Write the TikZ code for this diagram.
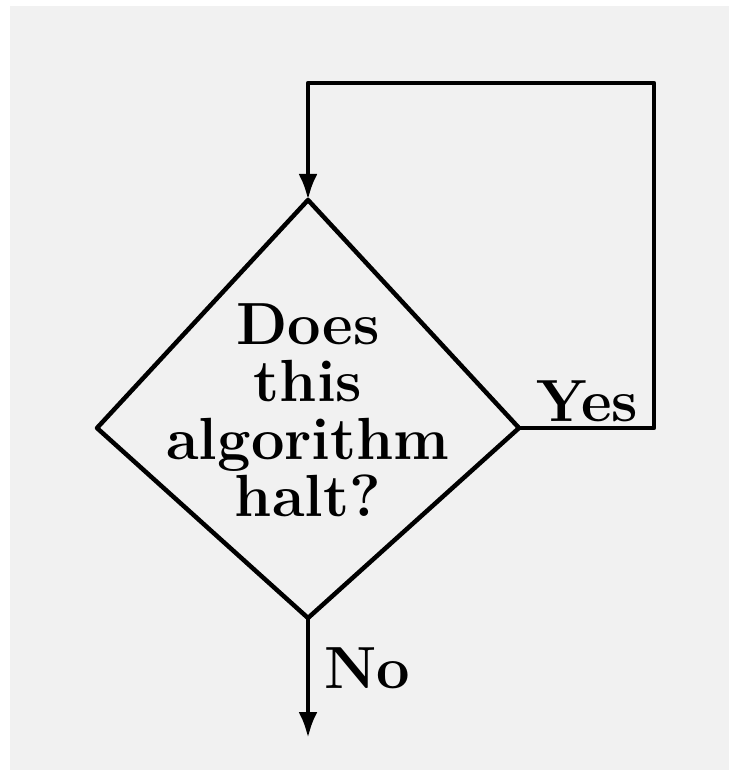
\documentclass[tikz,border=0pt]{standalone}
\usetikzlibrary{arrows.meta}
\definecolor{bggray}{HTML}{F1F1F1}
\begin{document}
\begin{tikzpicture}[x=1pt,y=-1pt,
  line/.style={line width=4.5pt, line join=round, line cap=butt},
  arr/.style={-{Latex[length=26pt,width=19pt]}},
  lbl/.style={font=\fontsize{59.5}{57.5}\selectfont\bfseries, inner sep=0pt}]
\useasboundingbox (0,0) rectangle (729,770);
\fill[bggray] (10,6) rectangle (729,770);
% diamond vertices
\coordinate (top) at (308,200);
\coordinate (left) at (97,428);
\coordinate (right) at (519,428);
\coordinate (bottom) at (308,618);
\coordinate (c1) at (654,428);
\coordinate (c2) at (654,83);
\coordinate (c3) at (308,83);
\coordinate (end) at (308,738);
\draw[line] (top) -- (right) -- (bottom) -- (left) -- cycle;
\node[lbl, align=center, anchor=north] (q) at (308,303) {Does\\this\\algorithm\\halt?};
\draw[line, arr] (right) -- (c1) -- (c2) -- (c3) -- (top);
\draw[line, arr] (bottom) -- (end);
\node[lbl, anchor=base west] (yes) at (536,421) {Yes};
\node[lbl, anchor=base west] (no) at (324,688) {No};
\end{tikzpicture}
\end{document}
